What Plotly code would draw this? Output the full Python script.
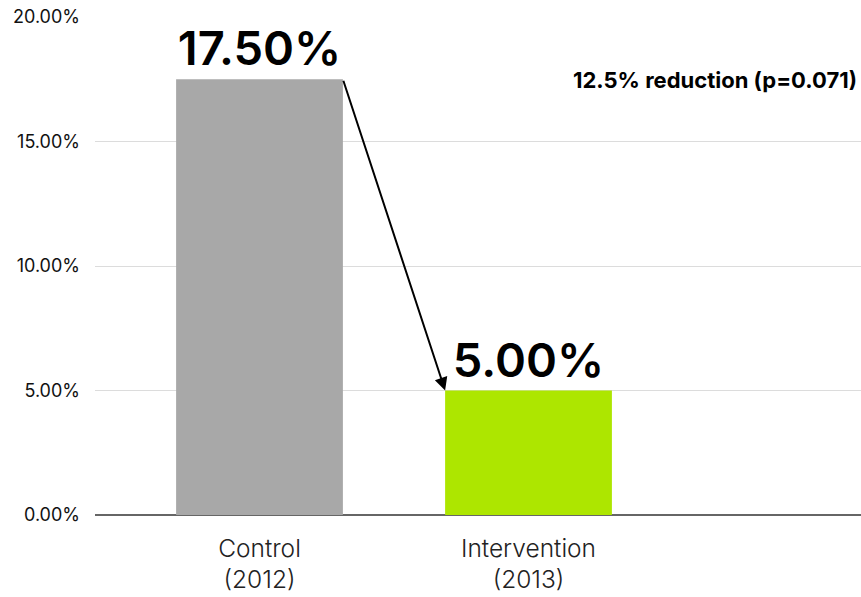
import plotly.graph_objects as go

# Share of patients, control year vs intervention year
categories = ["Control<br>(2012)", "Intervention<br>(2013)"]
rates = [0.175, 0.05]
bar_colors = ["#a8a8a8", "#ade600"]
tick_vals = [0, 0.05, 0.10, 0.15, 0.20]
tick_text = ["0.00%", "5.00%", "10.00%", "15.00%", "20.00%"]
note = "12.5% reduction (p=0.071)"

FONT = "Inter"
bar_w = 0.62

fig = go.Figure()
fig.add_trace(go.Bar(
    x=categories,
    y=rates,
    width=bar_w,
    marker=dict(color=bar_colors, line=dict(width=0)),
    text=[f"{v:.2%}" for v in rates],
    textposition="outside",
    textfont=dict(family=FONT, size=47, color="#000000", weight=600),
    constraintext="none",
    cliponaxis=False,
    hoverinfo="skip",
))

# Arrow from the top-right corner of the first bar to the top-left of the second
fig.add_annotation(
    x=1 - bar_w / 2, y=rates[1],
    ax=0 + bar_w / 2, ay=rates[0],
    xref="x", yref="y", axref="x", ayref="y",
    showarrow=True, arrowhead=2, arrowsize=1.3, arrowwidth=2,
    arrowcolor="#000000", text="", standoff=0, startstandoff=0,
)

fig.add_annotation(
    x=1, y=rates[0], xref="paper", yref="y",
    xanchor="right", yanchor="middle", xshift=-2, yshift=-1,
    text=note, showarrow=False,
    font=dict(family=FONT, size=22, color="#000000", weight=700),
)

fig.update_layout(
    width=861, height=597,
    margin=dict(l=95, r=0, t=17, b=82),
    paper_bgcolor="#ffffff", plot_bgcolor="#ffffff",
    showlegend=False,
    font=dict(family=FONT, color="#222222"),
    xaxis=dict(
        type="category",
        range=[-0.6115, 2.236],
        showgrid=False,
        tickfont=dict(family=FONT, size=24.5, color="#222222", weight=300),
        ticks="", showline=False,
        ticklabelstandoff=16,
    ),
    yaxis=dict(
        range=[0, 0.20],
        tickvals=tick_vals, ticktext=tick_text,
        tickfont=dict(family=FONT, size=18, color="#111111"),
        showgrid=True, gridcolor="#dcdcdc", gridwidth=1,
        zeroline=True, zerolinecolor="#666666", zerolinewidth=2,
        ticks="", ticklabelstandoff=14,
    ),
)

fig.write_html("out.html")
